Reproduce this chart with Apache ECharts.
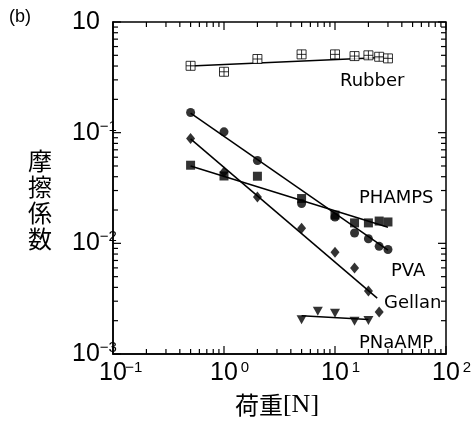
<!DOCTYPE html>
<html><head><meta charset="utf-8">
<script src="https://cdn.jsdelivr.net/npm/echarts@6/dist/echarts.min.js"></script>
<style>html,body{margin:0;padding:0;background:#fff}#c{width:475px;height:421px}</style>
</head><body><div id="c"></div>
<script>
// ---- data ----
const xTickLabels = ['10⁻¹','10⁰','10¹','10²'];
const yTickLabels = ['10⁻³','10⁻²','10⁻¹','10'];
const xDecades = [0.1, 1, 10, 100];
const yDecades = [0.001, 0.01, 0.1, 1];
const minorMultipliers = [2, 3, 4, 5, 6, 7, 8, 9];

const rubberX = [0.5, 1, 2, 5, 10, 15, 20, 25, 30];
const rubberY = [0.402, 0.355, 0.463, 0.510, 0.510, 0.492, 0.500, 0.485, 0.469];
const rubberFitX = [0.5, 30];
const rubberFitY = [0.40, 0.48];

const pvaX = [0.5, 1, 2, 5, 10, 15, 20, 25, 30];
const pvaY = [0.152, 0.1017, 0.056, 0.0229, 0.0173, 0.0124, 0.0110, 0.0094, 0.0088];
const pvaFitX = [0.5, 30];
const pvaFitY = [0.150, 0.0087];

const gellanX = [0.5, 1, 2, 5, 10, 15, 20, 25];
const gellanY = [0.0887, 0.0442, 0.0262, 0.0137, 0.0083, 0.0060, 0.0037, 0.0024];
const gellanFitX = [0.5, 24];
const gellanFitY = [0.088, 0.0032];

const phampsX = [0.5, 1, 2, 5, 10, 15, 20, 25, 30];
const phampsY = [0.0508, 0.0406, 0.0404, 0.0254, 0.0180, 0.0153, 0.0153, 0.0159, 0.0156];
const phampsFitX = [0.5, 30];
const phampsFitY = [0.050, 0.014];

const pnaampX = [5, 7, 10, 15, 20];
const pnaampY = [0.00204, 0.00244, 0.00234, 0.00198, 0.00201];
const pnaampFitX = [5, 20];
const pnaampFitY = [0.00222, 0.00205];

const seriesNames = ['Rubber', 'PHAMPS', 'PVA', 'Gellan', 'PNaAMP'];

// ---- helpers ----
const zip = (xs, ys) => xs.map((x, i) => [x, ys[i]]);
const SANS = '"Liberation Sans", Arial, sans-serif';
const LBL = '"DejaVu Sans", sans-serif';
const CJK = '"Noto Sans CJK JP", sans-serif';
const X0 = xDecades[0], X1 = xDecades[xDecades.length - 1];
const Y0 = yDecades[0], Y1 = yDecades[yDecades.length - 1];

const rich = {
  b: { fontSize: 25, fontFamily: SANS, color: '#000' },
  s: { fontSize: 15, fontFamily: SANS, color: '#000', verticalAlign: 'top', padding: [0, 0, 12, 0], width: 14, align: 'left' },
  sp: { width: 14 }
};
function splitSup(t) {
  const map = { '⁻': '−', '⁰': '0', '¹': '1', '²': '2', '³': '3' };
  const base = t.slice(0, 2), sup = t.slice(2).split('').map(c => map[c] || c).join('');
  return [base, sup];
}
function xFmt(v) {
  const i = xDecades.findIndex(d => Math.abs(Math.log10(d) - Math.log10(v)) < 1e-6);
  if (i < 0) return '';
  const [b, s] = splitSup(xTickLabels[i]);
  return '{sp|}{b|' + b + '}{s|' + s + '}';
}
function yFmt(v) {
  const i = yDecades.findIndex(d => Math.abs(Math.log10(d) - Math.log10(v)) < 1e-6);
  if (i < 0) return '';
  const [b, s] = splitSup(yTickLabels[i]);
  return s ? '{b|' + b + '}{s|' + s + '}' : '{b|' + b + '}';
}

// tick values: major at decades, minor at 2..9 x decade
function tickData(decades) {
  const out = [];
  decades.forEach((d, i) => {
    out.push([d, 8]);
    if (i < decades.length - 1) minorMultipliers.forEach(m => out.push([d * m, 5]));
  });
  return out;
}
const xTicks = tickData(xDecades).map(t => [t[0], Y0, t[1]]);
const yTicks = tickData(yDecades).map(t => [X0, t[0], t[1]]);

const tickStyle = () => ({ stroke: '#000', lineWidth: 1.2 });
function xTickRender(params, api) {
  const v = api.value(0), len = api.value(2);
  const b = api.coord([v, Y0]), t = api.coord([v, Y1]);
  return { type: 'group', children: [
    { type: 'line', shape: { x1: b[0], y1: b[1], x2: b[0], y2: b[1] - len }, style: tickStyle() },
    { type: 'line', shape: { x1: t[0], y1: t[1], x2: t[0], y2: t[1] + len }, style: tickStyle() }
  ] };
}
function yTickRender(params, api) {
  const v = api.value(1), len = api.value(2);
  const l = api.coord([X0, v]), r = api.coord([X1, v]);
  return { type: 'group', children: [
    { type: 'line', shape: { x1: l[0], y1: l[1], x2: l[0] + len, y2: l[1] }, style: tickStyle() },
    { type: 'line', shape: { x1: r[0], y1: r[1], x2: r[0] - len, y2: r[1] }, style: tickStyle() }
  ] };
}

const plusSquare = 'path://M0,0H10V10H0Z M5,0V10 M0,5H10';

function scatter(name, xs, ys, symbol, size, extra) {
  return Object.assign({
    name, type: 'scatter', data: zip(xs, ys), symbol, symbolSize: size,
    itemStyle: { color: '#000' }, z: 5, silent: true
  }, extra || {});
}
function fit(xs, ys) {
  return {
    type: 'line', data: zip(xs, ys), symbol: 'none', silent: true,
    lineStyle: { color: '#000', width: 1.5 }, z: 3
  };
}

const chart = echarts.init(document.getElementById('c'), null, { renderer: 'canvas' });
chart.setOption({
  animation: false,
  backgroundColor: '#fff',
  grid: { left: 113, right: 29, top: 22, bottom: 67, show: true, borderColor: '#000', borderWidth: 1.5 },
  xAxis: {
    type: 'log', logBase: 10, min: X0, max: X1,
    axisLine: { show: true, onZero: false, lineStyle: { color: '#000', width: 1.5 } },
    axisTick: { show: false }, minorTick: { show: false },
    splitLine: { show: false },
    axisLabel: { formatter: xFmt, rich, margin: 6 }
  },
  yAxis: {
    type: 'log', logBase: 10, min: Y0, max: Y1,
    axisLine: { show: true, onZero: false, lineStyle: { color: '#000', width: 1.5 } },
    axisTick: { show: false }, minorTick: { show: false },
    splitLine: { show: false },
    axisLabel: { formatter: yFmt, rich, margin: 41, align: 'left' }
  },
  series: [
    { type: 'custom', renderItem: xTickRender, data: xTicks, silent: true, z: 2, clip: false },
    { type: 'custom', renderItem: yTickRender, data: yTicks, silent: true, z: 2, clip: false },
    fit(rubberFitX, rubberFitY),
    scatter(seriesNames[0], rubberX, rubberY, plusSquare, 9, { itemStyle: { color: '#fff', borderColor: '#000', borderWidth: 1 } }),
    fit(phampsFitX, phampsFitY),
    scatter(seriesNames[1], phampsX, phampsY, 'rect', 9),
    fit(pvaFitX, pvaFitY),
    scatter(seriesNames[2], pvaX, pvaY, 'circle', 9),
    fit(gellanFitX, gellanFitY),
    scatter(seriesNames[3], gellanX, gellanY, 'diamond', [9, 11]),
    fit(pnaampFitX, pnaampFitY),
    scatter(seriesNames[4], pnaampX, pnaampY, 'triangle', [10, 9], { symbolRotate: 180 })
  ],
  graphic: [
    { type: 'text', left: 9, top: 8, style: { text: '(b)', font: '18px ' + SANS, fill: '#000' } },
    { type: 'text', x: 40, y: 200, style: { text: '摩\n擦\n係\n数', font: '24px ' + CJK, lineHeight: 26, fill: '#000', align: 'center', verticalAlign: 'middle' } },
    { type: 'text', x: 277, y: 405, style: { text: '{c|荷重}{n|[N]}', rich: { c: { fontSize: 24, fontFamily: CJK }, n: { fontSize: 26, fontFamily: '"Liberation Serif", serif' } }, fill: '#000', align: 'center', verticalAlign: 'middle' } },
    { type: 'text', x: 340, y: 81, style: { text: seriesNames[0], font: '18px ' + LBL, fill: '#000', verticalAlign: 'middle' } },
    { type: 'text', x: 359, y: 198, style: { text: seriesNames[1], font: '18px ' + LBL, fill: '#000', verticalAlign: 'middle' } },
    { type: 'text', x: 391, y: 271, style: { text: seriesNames[2], font: '18px ' + LBL, fill: '#000', verticalAlign: 'middle' } },
    { type: 'text', x: 384, y: 303, style: { text: seriesNames[3], font: '18px ' + LBL, fill: '#000', verticalAlign: 'middle' } },
    { type: 'text', x: 359, y: 343, style: { text: seriesNames[4], font: '18px ' + LBL, fill: '#000', verticalAlign: 'middle' } }
  ]
});
</script></body></html>
